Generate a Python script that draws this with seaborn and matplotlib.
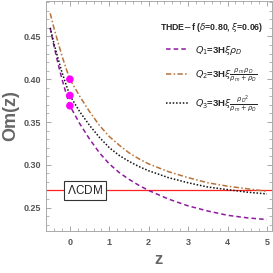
import pandas as pd
import matplotlib
matplotlib.use("Agg")
import matplotlib.pyplot as plt
import seaborn as sns
from matplotlib.ticker import MultipleLocator

# values
z = [-0.5, -0.4, -0.3, -0.2, -0.1, 0.0, 0.25, 0.5, 0.75, 1.0, 1.25, 1.5, 1.75,
     2.0, 2.5, 3.0, 3.5, 4.0, 4.5, 5.0]
om_q1 = [0.460, 0.438, 0.418, 0.400, 0.384, 0.369, 0.348, 0.330, 0.314, 0.301, 0.291,
         0.283, 0.276, 0.270, 0.260, 0.252, 0.246, 0.241, 0.238, 0.236]
om_q2 = [0.477, 0.459, 0.443, 0.427, 0.413, 0.400, 0.380, 0.362, 0.346, 0.333, 0.323,
         0.314, 0.307, 0.301, 0.292, 0.285, 0.279, 0.275, 0.272, 0.269]
om_q3 = [0.460, 0.441, 0.424, 0.408, 0.394, 0.381, 0.362, 0.346, 0.332, 0.320, 0.311,
         0.304, 0.298, 0.293, 0.285, 0.279, 0.274, 0.271, 0.268, 0.266]
om_lcdm = 0.27
z_now = [0.0, 0.0, 0.0]
om_now = [0.369, 0.381, 0.400]

labels = [r"$Q_1$=3H$\xi\rho_D$",
          r"$Q_2$=3H$\xi\frac{\rho_m\,\rho_D}{\rho_m+\rho_D}$",
          r"$Q_3$=3H$\xi\frac{{\rho_D}^2}{\rho_m+\rho_D}$"]
colors = ["#8e1a9e", "#b8733a", "#111111"]
styles = [(0, (3, 2)), (0, (3.5, 1.5, 1, 1.5)), (0, (1, 1.2))]

sns.set_style("ticks")
plt.rcParams['font.family'] = ['Liberation Sans', 'DejaVu Sans']
plt.rcParams['mathtext.fontset'] = 'dejavusans'

fig = plt.figure(figsize=(2.73, 2.73), dpi=100)
ax = fig.add_axes([0.168, 0.155, 0.827, 0.84])

handles = []
for vals, lab, c, ls in zip([om_q1, om_q2, om_q3], labels, colors, styles):
    df = pd.DataFrame({"z": z, "Om": vals})
    sns.lineplot(data=df, x="z", y="Om", ax=ax, color=c, lw=1.1, linestyle=ls)
    handles.append(ax.lines[-1])

ax.axhline(om_lcdm, color="#ff2020", lw=0.9, zorder=1)
sns.scatterplot(x=z_now, y=om_now, ax=ax, color="#ff00ff", s=30, edgecolor="none",
                zorder=5, legend=False)

ax.text(0.39, om_lcdm, r"$\Lambda$CDM", ha="center", va="center", fontsize=8.5,
        bbox=dict(boxstyle="square,pad=0.25", fc="white", ec="#333333", lw=0.8), zorder=6)

ax.set_xlim(-0.61, 5.12)
ax.set_ylim(0.223, 0.491)
ax.xaxis.set_major_locator(MultipleLocator(1))
ax.xaxis.set_minor_locator(MultipleLocator(0.2))
ax.yaxis.set_major_locator(MultipleLocator(0.05))
ax.yaxis.set_minor_locator(MultipleLocator(0.01))
ax.tick_params(which="both", direction="in", top=True, right=True, color="#999999",
               labelcolor="#555555", labelsize=6.5)
ax.tick_params(axis="x", pad=5)
ax.tick_params(which="major", length=3.5, width=0.6)
ax.tick_params(which="minor", length=2, width=0.5)
ax.yaxis.set_major_formatter(matplotlib.ticker.FormatStrFormatter("%.2f"))
for lab in ax.get_xticklabels() + ax.get_yticklabels():
    lab.set_fontweight("bold")
for sp in ax.spines.values():
    sp.set_color("#aaaaaa")
    sp.set_linewidth(0.7)

ax.set_xlabel("z", fontsize=12, fontweight="bold", color="#666666", labelpad=4)
ax.set_ylabel("Om(z)", fontsize=13, fontweight="bold", color="#666666", labelpad=3)

leg = ax.legend(handles=handles, labels=labels, loc="upper right",
                bbox_to_anchor=(1.0, 0.95), frameon=False, fontsize=6.8,
                title=r"THDE$-$f ($\delta$=0.80, $\xi$=0.06)", title_fontsize=6.3,
                handlelength=2.4, labelspacing=1.0, handletextpad=0.7)
leg.get_title().set_fontweight("bold")
for t in leg.get_texts():
    t.set_fontweight("bold")

fig.savefig("out.png", dpi=100)
